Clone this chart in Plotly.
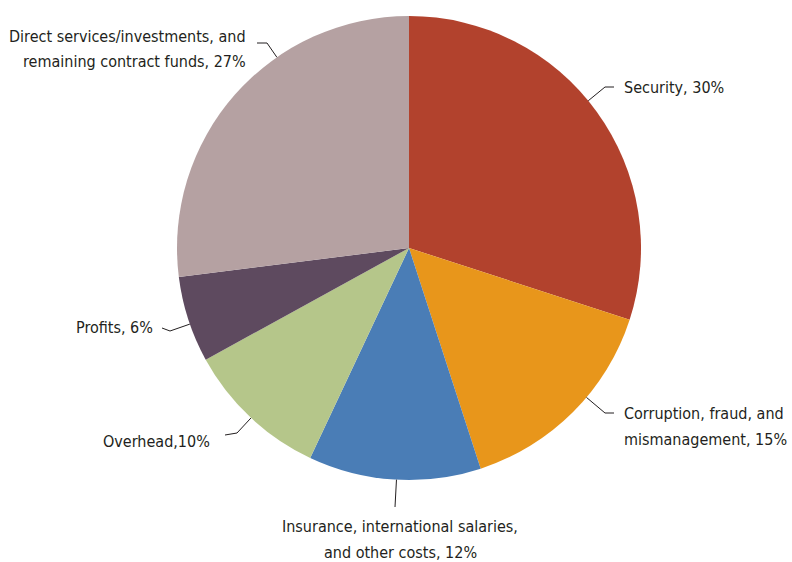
import math
import plotly.graph_objects as go

# Share of contract spending by category (percent), clockwise from 12 o'clock
categories = [
    "Security",
    "Corruption, fraud, and mismanagement",
    "Insurance, international salaries, and other costs",
    "Overhead",
    "Profits",
    "Direct services/investments, and remaining contract funds",
]
values = [30, 15, 12, 10, 6, 27]
label_templates = [
    "Security, {v}%",
    "Corruption, fraud, and<br>mismanagement, {v}%",
    "Insurance, international salaries,<br>and other costs, {v}%",
    "Overhead,{v}%",
    "Profits, {v}%",
    "Direct services/investments, and<br>remaining contract funds, {v}%",
]
colors = ["#B2422D", "#E8961B", "#4A7DB6", "#B5C68A", "#5E4A5F", "#B5A1A2"]

W, H = 792, 562
CX, CY, R = 409, 248, 232
FONT = "DejaVu Sans Condensed, Liberation Sans Narrow, sans-serif"
FONT_SIZE = 16
LINE_GAP = 26
TEXT_COLOR = "#231F20"
LINE_COLOR = "#231F20"

# label placement in page pixels: text block centre, alignment, leader elbow and tail end
label_layout = [
    dict(tx=622, ty=87, xa="left", elbow=(605, 87), tail=(614, 87)),
    dict(tx=622, ty=426, xa="left", elbow=(605, 413), tail=(614, 413)),
    dict(tx=400, ty=539, xa="center", elbow=(395, 507), tail=None),
    dict(tx=212, ty=441, xa="right", elbow=(237, 433), tail=(225, 435)),
    dict(tx=155, ty=327, xa="right", elbow=(170, 331), tail=(162, 328)),
    dict(tx=248, ty=49, xa="right", elbow=(267, 43), tail=(257, 43)),
]


def px(x):
    return x / W


def py(y):
    return 1 - y / H


fig = go.Figure(
    go.Pie(
        labels=categories,
        values=values,
        sort=False,
        direction="clockwise",
        rotation=0,
        marker=dict(colors=colors, line=dict(width=0)),
        textinfo="none",
        hoverinfo="label+percent",
        showlegend=False,
        domain=dict(x=[px(CX - R), px(CX + R)], y=[py(CY + R), py(CY - R)]),
    )
)

total = sum(values)
start = 0.0
shapes, annotations = [], []
for v, tmpl, lay in zip(values, label_templates, label_layout):
    a0 = start / total * 360
    a1 = (start + v) / total * 360
    start += v
    ex, ey = lay["elbow"]
    # leader attaches at the rim point nearest the elbow, kept inside the slice
    ang = math.degrees(math.atan2(ex - CX, -(ey - CY))) % 360
    ang = min(max(ang, a0 + 1), a1 - 1)
    sx = CX + R * math.sin(math.radians(ang))
    sy = CY - R * math.cos(math.radians(ang))
    path = f"M {px(sx)} {py(sy)} L {px(ex)} {py(ey)}"
    if lay["tail"] is not None:
        path += f" L {px(lay['tail'][0])} {py(lay['tail'][1])}"
    shapes.append(dict(type="path", xref="paper", yref="paper", path=path,
                       line=dict(color=LINE_COLOR, width=1)))
    # each text line placed separately for a looser line spacing
    lines = tmpl.format(v=v).split("<br>")
    first = lay["ty"] - LINE_GAP * (len(lines) - 1) / 2
    for i, line in enumerate(lines):
        annotations.append(dict(
            x=px(lay["tx"]), y=py(first + i * LINE_GAP), xref="paper", yref="paper",
            text=line, showarrow=False,
            xanchor=lay["xa"], yanchor="middle", align=lay["xa"],
            font=dict(family=FONT, size=FONT_SIZE, color=TEXT_COLOR),
        ))

fig.update_layout(
    width=W, height=H,
    margin=dict(l=0, r=0, t=0, b=0),
    paper_bgcolor="white", plot_bgcolor="white",
    shapes=shapes, annotations=annotations,
)

fig.write_html("out.html")
